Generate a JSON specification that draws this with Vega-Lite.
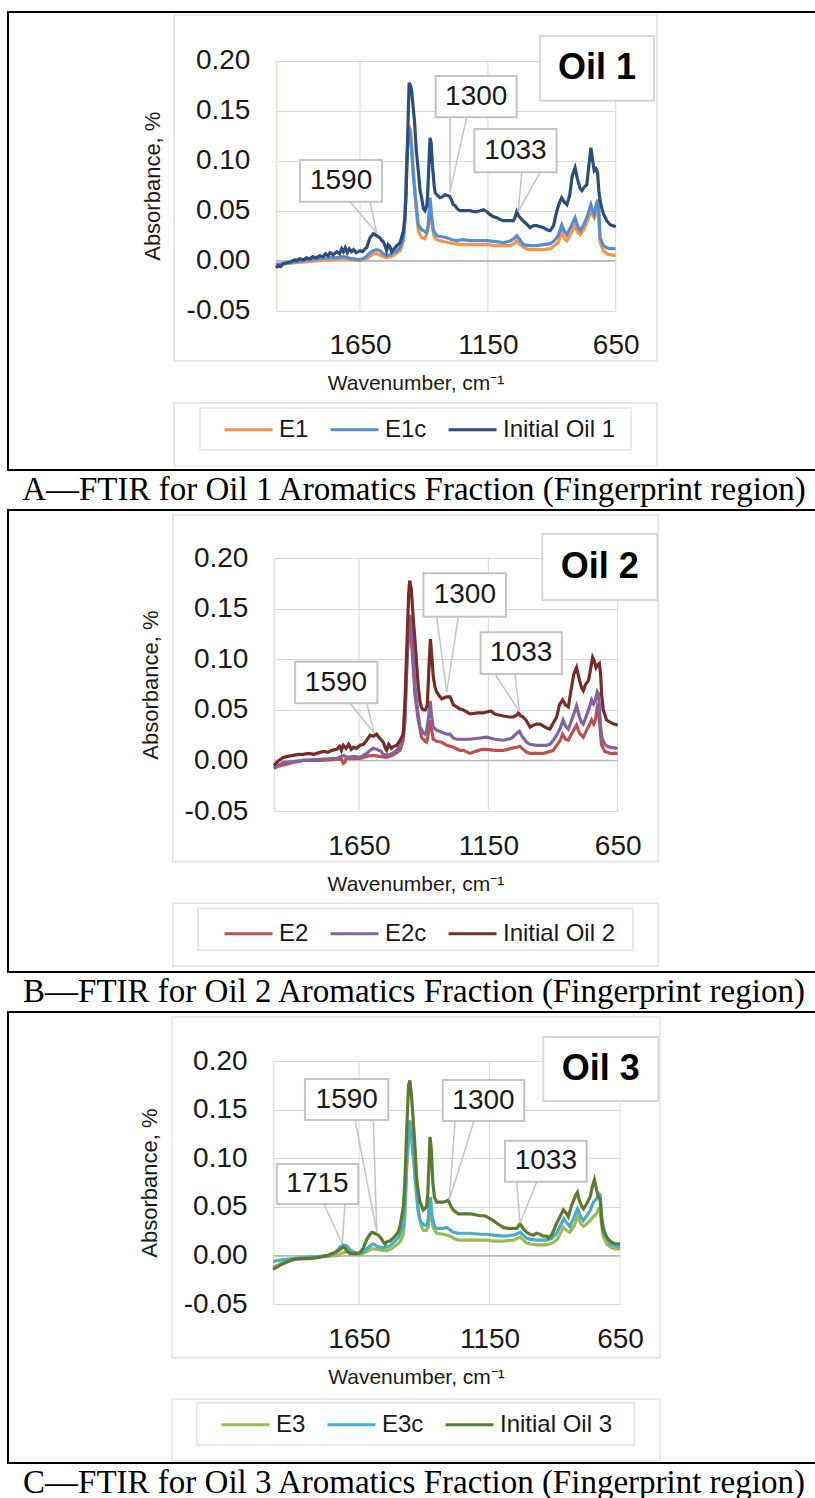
{
  "$schema": "https://vega.github.io/schema/vega-lite/v6.json",
  "padding": {"left": 7, "top": 11, "right": 0, "bottom": 0},
  "bounds": "flush",
  "spacing": 0,
  "resolve": {"scale": {"color": "independent"}},
  "config": {
    "view": {"stroke": "#000000", "strokeWidth": 2},
    "font": "Liberation Sans",
    "text": {"font": "Liberation Sans"},
    "axis": {
      "gridColor": "#d9d9d9", "gridWidth": 1,
      "ticks": false, "labelFontSize": 28, "labelColor": "#1a1a1a",
      "labelFlush": false, "labelOverlap": false, "labelBound": false,
      "titleFontWeight": "normal", "titleColor": "#1a1a1a",
      "titleFont": "Liberation Sans", "labelFont": "Liberation Sans"
    },
    "legend": {
      "title": null, "orient": "none", "direction": "horizontal",
      "symbolType": "stroke", "symbolSize": 2304, "symbolStrokeWidth": 3,
      "labelFontSize": 24, "labelFont": "Liberation Sans", "labelColor": "#1a1a1a",
      "labelOffset": 5, "columnPadding": 15, "padding": 0, "labelLimit": 0
    }
  },
  "datasets": {
    "lineA": [
      {"s":"E1","w":1979,"a":-0.004},{"s":"E1","w":1900,"a":-0.002},{"s":"E1","w":1807,"a":0.0},{"s":"E1","w":1767,"a":0.001},{"s":"E1","w":1715,"a":0.002},{"s":"E1","w":1683,"a":0.001},{"s":"E1","w":1650,"a":0.0},{"s":"E1","w":1624,"a":0.002},{"s":"E1","w":1598,"a":0.007},{"s":"E1","w":1585,"a":0.007},{"s":"E1","w":1559,"a":0.004},{"s":"E1","w":1546,"a":0.003},{"s":"E1","w":1520,"a":0.005},{"s":"E1","w":1493,"a":0.010},{"s":"E1","w":1480,"a":0.02},{"s":"E1","w":1474,"a":0.05},{"s":"E1","w":1467,"a":0.1},{"s":"E1","w":1459,"a":0.135},{"s":"E1","w":1452,"a":0.13},{"s":"E1","w":1441,"a":0.09},{"s":"E1","w":1430,"a":0.05},{"s":"E1","w":1422,"a":0.03},{"s":"E1","w":1409,"a":0.023},{"s":"E1","w":1396,"a":0.022},{"s":"E1","w":1386,"a":0.03},{"s":"E1","w":1376,"a":0.053},{"s":"E1","w":1368,"a":0.035},{"s":"E1","w":1360,"a":0.024},{"s":"E1","w":1350,"a":0.021},{"s":"E1","w":1320,"a":0.019},{"s":"E1","w":1285,"a":0.017},{"s":"E1","w":1250,"a":0.016},{"s":"E1","w":1219,"a":0.016},{"s":"E1","w":1180,"a":0.016},{"s":"E1","w":1154,"a":0.016},{"s":"E1","w":1120,"a":0.015},{"s":"E1","w":1089,"a":0.015},{"s":"E1","w":1060,"a":0.015},{"s":"E1","w":1045,"a":0.018},{"s":"E1","w":1037,"a":0.020},{"s":"E1","w":1025,"a":0.016},{"s":"E1","w":1000,"a":0.012},{"s":"E1","w":985,"a":0.011},{"s":"E1","w":959,"a":0.011},{"s":"E1","w":932,"a":0.011},{"s":"E1","w":906,"a":0.012},{"s":"E1","w":890,"a":0.015},{"s":"E1","w":875,"a":0.018},{"s":"E1","w":861,"a":0.029},{"s":"E1","w":850,"a":0.022},{"s":"E1","w":841,"a":0.020},{"s":"E1","w":825,"a":0.027},{"s":"E1","w":809,"a":0.035},{"s":"E1","w":798,"a":0.028},{"s":"E1","w":789,"a":0.026},{"s":"E1","w":775,"a":0.031},{"s":"E1","w":763,"a":0.038},{"s":"E1","w":747,"a":0.050},{"s":"E1","w":740,"a":0.046},{"s":"E1","w":734,"a":0.043},{"s":"E1","w":727,"a":0.048},{"s":"E1","w":721,"a":0.052},{"s":"E1","w":716,"a":0.040},{"s":"E1","w":711,"a":0.018},{"s":"E1","w":698,"a":0.010},{"s":"E1","w":685,"a":0.007},{"s":"E1","w":672,"a":0.006},{"s":"E1","w":650,"a":0.005},
      {"s":"E1c","w":1979,"a":-0.004},{"s":"E1c","w":1950,"a":-0.003},{"s":"E1c","w":1898,"a":-0.001},{"s":"E1c","w":1846,"a":0.001},{"s":"E1c","w":1807,"a":0.002},{"s":"E1c","w":1767,"a":0.003},{"s":"E1c","w":1741,"a":0.003},{"s":"E1c","w":1715,"a":0.004},{"s":"E1c","w":1683,"a":0.002},{"s":"E1c","w":1650,"a":0.001},{"s":"E1c","w":1630,"a":0.003},{"s":"E1c","w":1611,"a":0.008},{"s":"E1c","w":1598,"a":0.010},{"s":"E1c","w":1585,"a":0.011},{"s":"E1c","w":1572,"a":0.010},{"s":"E1c","w":1559,"a":0.007},{"s":"E1c","w":1546,"a":0.005},{"s":"E1c","w":1533,"a":0.006},{"s":"E1c","w":1520,"a":0.008},{"s":"E1c","w":1506,"a":0.010},{"s":"E1c","w":1493,"a":0.013},{"s":"E1c","w":1480,"a":0.023},{"s":"E1c","w":1474,"a":0.04},{"s":"E1c","w":1467,"a":0.1},{"s":"E1c","w":1460,"a":0.133},{"s":"E1c","w":1455,"a":0.13},{"s":"E1c","w":1448,"a":0.11},{"s":"E1c","w":1441,"a":0.083},{"s":"E1c","w":1430,"a":0.055},{"s":"E1c","w":1422,"a":0.036},{"s":"E1c","w":1409,"a":0.031},{"s":"E1c","w":1402,"a":0.030},{"s":"E1c","w":1389,"a":0.028},{"s":"E1c","w":1383,"a":0.035},{"s":"E1c","w":1376,"a":0.063},{"s":"E1c","w":1370,"a":0.045},{"s":"E1c","w":1363,"a":0.030},{"s":"E1c","w":1350,"a":0.025},{"s":"E1c","w":1330,"a":0.024},{"s":"E1c","w":1311,"a":0.023},{"s":"E1c","w":1290,"a":0.021},{"s":"E1c","w":1272,"a":0.020},{"s":"E1c","w":1250,"a":0.021},{"s":"E1c","w":1219,"a":0.020},{"s":"E1c","w":1190,"a":0.020},{"s":"E1c","w":1154,"a":0.020},{"s":"E1c","w":1120,"a":0.019},{"s":"E1c","w":1089,"a":0.018},{"s":"E1c","w":1060,"a":0.020},{"s":"E1c","w":1045,"a":0.023},{"s":"E1c","w":1037,"a":0.025},{"s":"E1c","w":1025,"a":0.021},{"s":"E1c","w":1011,"a":0.016},{"s":"E1c","w":985,"a":0.015},{"s":"E1c","w":959,"a":0.015},{"s":"E1c","w":932,"a":0.016},{"s":"E1c","w":906,"a":0.017},{"s":"E1c","w":890,"a":0.020},{"s":"E1c","w":875,"a":0.025},{"s":"E1c","w":861,"a":0.036},{"s":"E1c","w":852,"a":0.030},{"s":"E1c","w":841,"a":0.026},{"s":"E1c","w":825,"a":0.034},{"s":"E1c","w":809,"a":0.043},{"s":"E1c","w":798,"a":0.034},{"s":"E1c","w":789,"a":0.030},{"s":"E1c","w":775,"a":0.036},{"s":"E1c","w":763,"a":0.043},{"s":"E1c","w":747,"a":0.056},{"s":"E1c","w":740,"a":0.050},{"s":"E1c","w":734,"a":0.046},{"s":"E1c","w":727,"a":0.055},{"s":"E1c","w":721,"a":0.061},{"s":"E1c","w":716,"a":0.050},{"s":"E1c","w":711,"a":0.023},{"s":"E1c","w":698,"a":0.015},{"s":"E1c","w":685,"a":0.013},{"s":"E1c","w":672,"a":0.012},{"s":"E1c","w":650,"a":0.012},
      {"s":"Initial Oil 1","w":1979,"a":-0.007},{"s":"Initial Oil 1","w":1970,"a":-0.005},{"s":"Initial Oil 1","w":1960,"a":-0.006},{"s":"Initial Oil 1","w":1950,"a":-0.003},{"s":"Initial Oil 1","w":1935,"a":-0.002},{"s":"Initial Oil 1","w":1920,"a":-0.001},{"s":"Initial Oil 1","w":1905,"a":0.001},{"s":"Initial Oil 1","w":1898,"a":0.0},{"s":"Initial Oil 1","w":1885,"a":0.002},{"s":"Initial Oil 1","w":1870,"a":0.001},{"s":"Initial Oil 1","w":1860,"a":0.003},{"s":"Initial Oil 1","w":1846,"a":0.002},{"s":"Initial Oil 1","w":1835,"a":0.004},{"s":"Initial Oil 1","w":1820,"a":0.003},{"s":"Initial Oil 1","w":1807,"a":0.005},{"s":"Initial Oil 1","w":1795,"a":0.004},{"s":"Initial Oil 1","w":1785,"a":0.007},{"s":"Initial Oil 1","w":1775,"a":0.005},{"s":"Initial Oil 1","w":1767,"a":0.008},{"s":"Initial Oil 1","w":1755,"a":0.006},{"s":"Initial Oil 1","w":1741,"a":0.009},{"s":"Initial Oil 1","w":1730,"a":0.007},{"s":"Initial Oil 1","w":1722,"a":0.012},{"s":"Initial Oil 1","w":1715,"a":0.009},{"s":"Initial Oil 1","w":1708,"a":0.013},{"s":"Initial Oil 1","w":1700,"a":0.008},{"s":"Initial Oil 1","w":1692,"a":0.012},{"s":"Initial Oil 1","w":1683,"a":0.009},{"s":"Initial Oil 1","w":1675,"a":0.011},{"s":"Initial Oil 1","w":1665,"a":0.008},{"s":"Initial Oil 1","w":1650,"a":0.010},{"s":"Initial Oil 1","w":1640,"a":0.009},{"s":"Initial Oil 1","w":1630,"a":0.012},{"s":"Initial Oil 1","w":1624,"a":0.013},{"s":"Initial Oil 1","w":1611,"a":0.023},{"s":"Initial Oil 1","w":1598,"a":0.027},{"s":"Initial Oil 1","w":1590,"a":0.026},{"s":"Initial Oil 1","w":1580,"a":0.024},{"s":"Initial Oil 1","w":1572,"a":0.023},{"s":"Initial Oil 1","w":1565,"a":0.020},{"s":"Initial Oil 1","w":1559,"a":0.019},{"s":"Initial Oil 1","w":1552,"a":0.015},{"s":"Initial Oil 1","w":1546,"a":0.010},{"s":"Initial Oil 1","w":1540,"a":0.016},{"s":"Initial Oil 1","w":1533,"a":0.014},{"s":"Initial Oil 1","w":1526,"a":0.009},{"s":"Initial Oil 1","w":1520,"a":0.011},{"s":"Initial Oil 1","w":1506,"a":0.015},{"s":"Initial Oil 1","w":1493,"a":0.018},{"s":"Initial Oil 1","w":1480,"a":0.030},{"s":"Initial Oil 1","w":1474,"a":0.045},{"s":"Initial Oil 1","w":1470,"a":0.065},{"s":"Initial Oil 1","w":1464,"a":0.12},{"s":"Initial Oil 1","w":1458,"a":0.178},{"s":"Initial Oil 1","w":1452,"a":0.175},{"s":"Initial Oil 1","w":1448,"a":0.170},{"s":"Initial Oil 1","w":1441,"a":0.15},{"s":"Initial Oil 1","w":1437,"a":0.14},{"s":"Initial Oil 1","w":1430,"a":0.11},{"s":"Initial Oil 1","w":1422,"a":0.09},{"s":"Initial Oil 1","w":1415,"a":0.07},{"s":"Initial Oil 1","w":1409,"a":0.063},{"s":"Initial Oil 1","w":1402,"a":0.052},{"s":"Initial Oil 1","w":1396,"a":0.05},{"s":"Initial Oil 1","w":1389,"a":0.055},{"s":"Initial Oil 1","w":1386,"a":0.063},{"s":"Initial Oil 1","w":1380,"a":0.1},{"s":"Initial Oil 1","w":1376,"a":0.123},{"s":"Initial Oil 1","w":1372,"a":0.118},{"s":"Initial Oil 1","w":1366,"a":0.093},{"s":"Initial Oil 1","w":1360,"a":0.075},{"s":"Initial Oil 1","w":1356,"a":0.068},{"s":"Initial Oil 1","w":1350,"a":0.066},{"s":"Initial Oil 1","w":1337,"a":0.063},{"s":"Initial Oil 1","w":1327,"a":0.064},{"s":"Initial Oil 1","w":1317,"a":0.066},{"s":"Initial Oil 1","w":1305,"a":0.065},{"s":"Initial Oil 1","w":1298,"a":0.064},{"s":"Initial Oil 1","w":1285,"a":0.056},{"s":"Initial Oil 1","w":1278,"a":0.055},{"s":"Initial Oil 1","w":1270,"a":0.052},{"s":"Initial Oil 1","w":1259,"a":0.050},{"s":"Initial Oil 1","w":1240,"a":0.050},{"s":"Initial Oil 1","w":1219,"a":0.050},{"s":"Initial Oil 1","w":1205,"a":0.049},{"s":"Initial Oil 1","w":1193,"a":0.049},{"s":"Initial Oil 1","w":1180,"a":0.050},{"s":"Initial Oil 1","w":1167,"a":0.051},{"s":"Initial Oil 1","w":1154,"a":0.049},{"s":"Initial Oil 1","w":1141,"a":0.046},{"s":"Initial Oil 1","w":1128,"a":0.044},{"s":"Initial Oil 1","w":1115,"a":0.043},{"s":"Initial Oil 1","w":1100,"a":0.041},{"s":"Initial Oil 1","w":1089,"a":0.040},{"s":"Initial Oil 1","w":1070,"a":0.040},{"s":"Initial Oil 1","w":1050,"a":0.040},{"s":"Initial Oil 1","w":1044,"a":0.043},{"s":"Initial Oil 1","w":1037,"a":0.049},{"s":"Initial Oil 1","w":1030,"a":0.045},{"s":"Initial Oil 1","w":1017,"a":0.041},{"s":"Initial Oil 1","w":1000,"a":0.037},{"s":"Initial Oil 1","w":985,"a":0.033},{"s":"Initial Oil 1","w":972,"a":0.035},{"s":"Initial Oil 1","w":959,"a":0.035},{"s":"Initial Oil 1","w":945,"a":0.034},{"s":"Initial Oil 1","w":932,"a":0.033},{"s":"Initial Oil 1","w":919,"a":0.031},{"s":"Initial Oil 1","w":906,"a":0.030},{"s":"Initial Oil 1","w":893,"a":0.035},{"s":"Initial Oil 1","w":880,"a":0.050},{"s":"Initial Oil 1","w":870,"a":0.058},{"s":"Initial Oil 1","w":861,"a":0.063},{"s":"Initial Oil 1","w":852,"a":0.059},{"s":"Initial Oil 1","w":841,"a":0.056},{"s":"Initial Oil 1","w":830,"a":0.065},{"s":"Initial Oil 1","w":820,"a":0.085},{"s":"Initial Oil 1","w":809,"a":0.093},{"s":"Initial Oil 1","w":800,"a":0.082},{"s":"Initial Oil 1","w":789,"a":0.072},{"s":"Initial Oil 1","w":782,"a":0.070},{"s":"Initial Oil 1","w":772,"a":0.074},{"s":"Initial Oil 1","w":763,"a":0.076},{"s":"Initial Oil 1","w":755,"a":0.095},{"s":"Initial Oil 1","w":747,"a":0.113},{"s":"Initial Oil 1","w":740,"a":0.100},{"s":"Initial Oil 1","w":734,"a":0.090},{"s":"Initial Oil 1","w":727,"a":0.092},{"s":"Initial Oil 1","w":721,"a":0.088},{"s":"Initial Oil 1","w":716,"a":0.07},{"s":"Initial Oil 1","w":711,"a":0.06},{"s":"Initial Oil 1","w":704,"a":0.052},{"s":"Initial Oil 1","w":698,"a":0.047},{"s":"Initial Oil 1","w":685,"a":0.040},{"s":"Initial Oil 1","w":672,"a":0.036},{"s":"Initial Oil 1","w":660,"a":0.035},{"s":"Initial Oil 1","w":650,"a":0.034}
    ],
    "lineB": [
      {"s":"E2","w":1979,"a":-0.007},{"s":"E2","w":1904,"a":-0.002},{"s":"E2","w":1865,"a":0.0},{"s":"E2","w":1801,"a":0.0},{"s":"E2","w":1736,"a":0.001},{"s":"E2","w":1718,"a":0.001},{"s":"E2","w":1711,"a":-0.003},{"s":"E2","w":1705,"a":-0.002},{"s":"E2","w":1700,"a":0.002},{"s":"E2","w":1672,"a":0.002},{"s":"E2","w":1646,"a":0.002},{"s":"E2","w":1620,"a":0.004},{"s":"E2","w":1595,"a":0.005},{"s":"E2","w":1570,"a":0.004},{"s":"E2","w":1543,"a":0.003},{"s":"E2","w":1520,"a":0.005},{"s":"E2","w":1491,"a":0.010},{"s":"E2","w":1479,"a":0.02},{"s":"E2","w":1472,"a":0.04},{"s":"E2","w":1466,"a":0.09},{"s":"E2","w":1458,"a":0.13},{"s":"E2","w":1455,"a":0.142},{"s":"E2","w":1448,"a":0.12},{"s":"E2","w":1440,"a":0.09},{"s":"E2","w":1434,"a":0.066},{"s":"E2","w":1421,"a":0.04},{"s":"E2","w":1408,"a":0.023},{"s":"E2","w":1395,"a":0.019},{"s":"E2","w":1388,"a":0.018},{"s":"E2","w":1380,"a":0.03},{"s":"E2","w":1375,"a":0.040},{"s":"E2","w":1369,"a":0.03},{"s":"E2","w":1363,"a":0.021},{"s":"E2","w":1350,"a":0.019},{"s":"E2","w":1330,"a":0.018},{"s":"E2","w":1311,"a":0.015},{"s":"E2","w":1285,"a":0.013},{"s":"E2","w":1260,"a":0.010},{"s":"E2","w":1247,"a":0.010},{"s":"E2","w":1221,"a":0.007},{"s":"E2","w":1200,"a":0.009},{"s":"E2","w":1175,"a":0.011},{"s":"E2","w":1156,"a":0.011},{"s":"E2","w":1125,"a":0.010},{"s":"E2","w":1092,"a":0.010},{"s":"E2","w":1060,"a":0.012},{"s":"E2","w":1040,"a":0.013},{"s":"E2","w":1028,"a":0.014},{"s":"E2","w":1015,"a":0.011},{"s":"E2","w":1002,"a":0.008},{"s":"E2","w":989,"a":0.007},{"s":"E2","w":963,"a":0.007},{"s":"E2","w":937,"a":0.007},{"s":"E2","w":912,"a":0.009},{"s":"E2","w":899,"a":0.010},{"s":"E2","w":886,"a":0.015},{"s":"E2","w":872,"a":0.020},{"s":"E2","w":863,"a":0.026},{"s":"E2","w":852,"a":0.021},{"s":"E2","w":841,"a":0.020},{"s":"E2","w":825,"a":0.028},{"s":"E2","w":809,"a":0.035},{"s":"E2","w":798,"a":0.027},{"s":"E2","w":783,"a":0.023},{"s":"E2","w":770,"a":0.030},{"s":"E2","w":760,"a":0.035},{"s":"E2","w":751,"a":0.040},{"s":"E2","w":743,"a":0.036},{"s":"E2","w":736,"a":0.040},{"s":"E2","w":729,"a":0.053},{"s":"E2","w":724,"a":0.050},{"s":"E2","w":716,"a":0.025},{"s":"E2","w":712,"a":0.015},{"s":"E2","w":700,"a":0.009},{"s":"E2","w":690,"a":0.008},{"s":"E2","w":680,"a":0.007},{"s":"E2","w":650,"a":0.007},
      {"s":"E2c","w":1979,"a":-0.008},{"s":"E2c","w":1943,"a":-0.002},{"s":"E2c","w":1904,"a":-0.001},{"s":"E2c","w":1865,"a":0.0},{"s":"E2c","w":1801,"a":0.001},{"s":"E2c","w":1736,"a":0.002},{"s":"E2c","w":1711,"a":0.005},{"s":"E2c","w":1690,"a":0.003},{"s":"E2c","w":1672,"a":0.004},{"s":"E2c","w":1646,"a":0.003},{"s":"E2c","w":1620,"a":0.007},{"s":"E2c","w":1607,"a":0.010},{"s":"E2c","w":1595,"a":0.012},{"s":"E2c","w":1582,"a":0.011},{"s":"E2c","w":1565,"a":0.009},{"s":"E2c","w":1556,"a":0.006},{"s":"E2c","w":1543,"a":0.005},{"s":"E2c","w":1520,"a":0.007},{"s":"E2c","w":1504,"a":0.01},{"s":"E2c","w":1491,"a":0.014},{"s":"E2c","w":1479,"a":0.026},{"s":"E2c","w":1472,"a":0.05},{"s":"E2c","w":1466,"a":0.089},{"s":"E2c","w":1458,"a":0.135},{"s":"E2c","w":1453,"a":0.144},{"s":"E2c","w":1447,"a":0.13},{"s":"E2c","w":1440,"a":0.1},{"s":"E2c","w":1434,"a":0.073},{"s":"E2c","w":1421,"a":0.045},{"s":"E2c","w":1414,"a":0.033},{"s":"E2c","w":1401,"a":0.027},{"s":"E2c","w":1395,"a":0.026},{"s":"E2c","w":1388,"a":0.03},{"s":"E2c","w":1380,"a":0.045},{"s":"E2c","w":1375,"a":0.059},{"s":"E2c","w":1370,"a":0.045},{"s":"E2c","w":1363,"a":0.033},{"s":"E2c","w":1350,"a":0.030},{"s":"E2c","w":1330,"a":0.028},{"s":"E2c","w":1311,"a":0.026},{"s":"E2c","w":1298,"a":0.026},{"s":"E2c","w":1285,"a":0.022},{"s":"E2c","w":1272,"a":0.021},{"s":"E2c","w":1247,"a":0.021},{"s":"E2c","w":1221,"a":0.021},{"s":"E2c","w":1190,"a":0.022},{"s":"E2c","w":1156,"a":0.023},{"s":"E2c","w":1125,"a":0.021},{"s":"E2c","w":1092,"a":0.020},{"s":"E2c","w":1060,"a":0.022},{"s":"E2c","w":1040,"a":0.027},{"s":"E2c","w":1030,"a":0.029},{"s":"E2c","w":1020,"a":0.024},{"s":"E2c","w":1002,"a":0.018},{"s":"E2c","w":989,"a":0.016},{"s":"E2c","w":963,"a":0.015},{"s":"E2c","w":937,"a":0.015},{"s":"E2c","w":925,"a":0.015},{"s":"E2c","w":912,"a":0.016},{"s":"E2c","w":899,"a":0.020},{"s":"E2c","w":886,"a":0.025},{"s":"E2c","w":872,"a":0.032},{"s":"E2c","w":861,"a":0.040},{"s":"E2c","w":852,"a":0.034},{"s":"E2c","w":841,"a":0.031},{"s":"E2c","w":825,"a":0.042},{"s":"E2c","w":809,"a":0.054},{"s":"E2c","w":798,"a":0.043},{"s":"E2c","w":790,"a":0.038},{"s":"E2c","w":783,"a":0.036},{"s":"E2c","w":770,"a":0.045},{"s":"E2c","w":760,"a":0.052},{"s":"E2c","w":751,"a":0.060},{"s":"E2c","w":743,"a":0.056},{"s":"E2c","w":736,"a":0.060},{"s":"E2c","w":729,"a":0.068},{"s":"E2c","w":724,"a":0.066},{"s":"E2c","w":716,"a":0.033},{"s":"E2c","w":710,"a":0.022},{"s":"E2c","w":700,"a":0.016},{"s":"E2c","w":690,"a":0.014},{"s":"E2c","w":680,"a":0.013},{"s":"E2c","w":650,"a":0.012},
      {"s":"Initial Oil 2","w":1979,"a":-0.005},{"s":"Initial Oil 2","w":1960,"a":0.0},{"s":"Initial Oil 2","w":1943,"a":0.003},{"s":"Initial Oil 2","w":1925,"a":0.004},{"s":"Initial Oil 2","w":1904,"a":0.005},{"s":"Initial Oil 2","w":1885,"a":0.006},{"s":"Initial Oil 2","w":1865,"a":0.006},{"s":"Initial Oil 2","w":1845,"a":0.007},{"s":"Initial Oil 2","w":1825,"a":0.006},{"s":"Initial Oil 2","w":1801,"a":0.008},{"s":"Initial Oil 2","w":1785,"a":0.009},{"s":"Initial Oil 2","w":1770,"a":0.008},{"s":"Initial Oil 2","w":1755,"a":0.010},{"s":"Initial Oil 2","w":1736,"a":0.011},{"s":"Initial Oil 2","w":1725,"a":0.014},{"s":"Initial Oil 2","w":1718,"a":0.010},{"s":"Initial Oil 2","w":1711,"a":0.015},{"s":"Initial Oil 2","w":1700,"a":0.012},{"s":"Initial Oil 2","w":1690,"a":0.016},{"s":"Initial Oil 2","w":1680,"a":0.011},{"s":"Initial Oil 2","w":1672,"a":0.013},{"s":"Initial Oil 2","w":1660,"a":0.012},{"s":"Initial Oil 2","w":1646,"a":0.015},{"s":"Initial Oil 2","w":1633,"a":0.016},{"s":"Initial Oil 2","w":1620,"a":0.020},{"s":"Initial Oil 2","w":1607,"a":0.025},{"s":"Initial Oil 2","w":1595,"a":0.024},{"s":"Initial Oil 2","w":1582,"a":0.026},{"s":"Initial Oil 2","w":1570,"a":0.022},{"s":"Initial Oil 2","w":1556,"a":0.018},{"s":"Initial Oil 2","w":1548,"a":0.012},{"s":"Initial Oil 2","w":1543,"a":0.010},{"s":"Initial Oil 2","w":1535,"a":0.016},{"s":"Initial Oil 2","w":1525,"a":0.012},{"s":"Initial Oil 2","w":1515,"a":0.014},{"s":"Initial Oil 2","w":1504,"a":0.015},{"s":"Initial Oil 2","w":1491,"a":0.020},{"s":"Initial Oil 2","w":1479,"a":0.026},{"s":"Initial Oil 2","w":1472,"a":0.06},{"s":"Initial Oil 2","w":1466,"a":0.106},{"s":"Initial Oil 2","w":1458,"a":0.165},{"s":"Initial Oil 2","w":1454,"a":0.178},{"s":"Initial Oil 2","w":1448,"a":0.17},{"s":"Initial Oil 2","w":1440,"a":0.139},{"s":"Initial Oil 2","w":1434,"a":0.12},{"s":"Initial Oil 2","w":1421,"a":0.073},{"s":"Initial Oil 2","w":1414,"a":0.058},{"s":"Initial Oil 2","w":1408,"a":0.052},{"s":"Initial Oil 2","w":1401,"a":0.05},{"s":"Initial Oil 2","w":1393,"a":0.050},{"s":"Initial Oil 2","w":1386,"a":0.055},{"s":"Initial Oil 2","w":1380,"a":0.09},{"s":"Initial Oil 2","w":1374,"a":0.12},{"s":"Initial Oil 2","w":1369,"a":0.105},{"s":"Initial Oil 2","w":1363,"a":0.083},{"s":"Initial Oil 2","w":1356,"a":0.072},{"s":"Initial Oil 2","w":1350,"a":0.068},{"s":"Initial Oil 2","w":1340,"a":0.064},{"s":"Initial Oil 2","w":1330,"a":0.061},{"s":"Initial Oil 2","w":1311,"a":0.063},{"s":"Initial Oil 2","w":1298,"a":0.063},{"s":"Initial Oil 2","w":1285,"a":0.055},{"s":"Initial Oil 2","w":1272,"a":0.053},{"s":"Initial Oil 2","w":1260,"a":0.051},{"s":"Initial Oil 2","w":1247,"a":0.050},{"s":"Initial Oil 2","w":1221,"a":0.046},{"s":"Initial Oil 2","w":1190,"a":0.047},{"s":"Initial Oil 2","w":1170,"a":0.047},{"s":"Initial Oil 2","w":1156,"a":0.048},{"s":"Initial Oil 2","w":1140,"a":0.049},{"s":"Initial Oil 2","w":1125,"a":0.046},{"s":"Initial Oil 2","w":1110,"a":0.045},{"s":"Initial Oil 2","w":1092,"a":0.044},{"s":"Initial Oil 2","w":1070,"a":0.043},{"s":"Initial Oil 2","w":1053,"a":0.043},{"s":"Initial Oil 2","w":1040,"a":0.045},{"s":"Initial Oil 2","w":1034,"a":0.047},{"s":"Initial Oil 2","w":1025,"a":0.044},{"s":"Initial Oil 2","w":1015,"a":0.043},{"s":"Initial Oil 2","w":1002,"a":0.039},{"s":"Initial Oil 2","w":989,"a":0.033},{"s":"Initial Oil 2","w":975,"a":0.035},{"s":"Initial Oil 2","w":963,"a":0.036},{"s":"Initial Oil 2","w":950,"a":0.036},{"s":"Initial Oil 2","w":937,"a":0.034},{"s":"Initial Oil 2","w":925,"a":0.032},{"s":"Initial Oil 2","w":912,"a":0.031},{"s":"Initial Oil 2","w":899,"a":0.037},{"s":"Initial Oil 2","w":886,"a":0.043},{"s":"Initial Oil 2","w":875,"a":0.055},{"s":"Initial Oil 2","w":863,"a":0.060},{"s":"Initial Oil 2","w":852,"a":0.055},{"s":"Initial Oil 2","w":841,"a":0.053},{"s":"Initial Oil 2","w":830,"a":0.070},{"s":"Initial Oil 2","w":820,"a":0.085},{"s":"Initial Oil 2","w":809,"a":0.092},{"s":"Initial Oil 2","w":800,"a":0.082},{"s":"Initial Oil 2","w":790,"a":0.072},{"s":"Initial Oil 2","w":783,"a":0.069},{"s":"Initial Oil 2","w":775,"a":0.075},{"s":"Initial Oil 2","w":763,"a":0.079},{"s":"Initial Oil 2","w":755,"a":0.090},{"s":"Initial Oil 2","w":747,"a":0.102},{"s":"Initial Oil 2","w":740,"a":0.098},{"s":"Initial Oil 2","w":734,"a":0.092},{"s":"Initial Oil 2","w":729,"a":0.094},{"s":"Initial Oil 2","w":721,"a":0.096},{"s":"Initial Oil 2","w":716,"a":0.085},{"s":"Initial Oil 2","w":712,"a":0.065},{"s":"Initial Oil 2","w":706,"a":0.05},{"s":"Initial Oil 2","w":693,"a":0.040},{"s":"Initial Oil 2","w":680,"a":0.038},{"s":"Initial Oil 2","w":665,"a":0.036},{"s":"Initial Oil 2","w":650,"a":0.035}
    ],
    "lineC": [
      {"s":"E3","w":1979,"a":-0.012},{"s":"E3","w":1940,"a":-0.007},{"s":"E3","w":1902,"a":-0.004},{"s":"E3","w":1863,"a":-0.003},{"s":"E3","w":1800,"a":-0.001},{"s":"E3","w":1736,"a":0.0},{"s":"E3","w":1710,"a":0.003},{"s":"E3","w":1697,"a":0.004},{"s":"E3","w":1672,"a":0.002},{"s":"E3","w":1646,"a":0.001},{"s":"E3","w":1621,"a":0.004},{"s":"E3","w":1601,"a":0.007},{"s":"E3","w":1590,"a":0.007},{"s":"E3","w":1570,"a":0.006},{"s":"E3","w":1544,"a":0.005},{"s":"E3","w":1520,"a":0.008},{"s":"E3","w":1493,"a":0.014},{"s":"E3","w":1480,"a":0.022},{"s":"E3","w":1474,"a":0.04},{"s":"E3","w":1467,"a":0.09},{"s":"E3","w":1458,"a":0.128},{"s":"E3","w":1454,"a":0.132},{"s":"E3","w":1447,"a":0.115},{"s":"E3","w":1435,"a":0.08},{"s":"E3","w":1423,"a":0.045},{"s":"E3","w":1410,"a":0.03},{"s":"E3","w":1404,"a":0.026},{"s":"E3","w":1391,"a":0.026},{"s":"E3","w":1384,"a":0.03},{"s":"E3","w":1378,"a":0.048},{"s":"E3","w":1372,"a":0.04},{"s":"E3","w":1365,"a":0.028},{"s":"E3","w":1352,"a":0.023},{"s":"E3","w":1327,"a":0.022},{"s":"E3","w":1300,"a":0.020},{"s":"E3","w":1289,"a":0.018},{"s":"E3","w":1269,"a":0.016},{"s":"E3","w":1225,"a":0.016},{"s":"E3","w":1186,"a":0.016},{"s":"E3","w":1161,"a":0.016},{"s":"E3","w":1135,"a":0.015},{"s":"E3","w":1097,"a":0.015},{"s":"E3","w":1059,"a":0.016},{"s":"E3","w":1040,"a":0.018},{"s":"E3","w":1033,"a":0.019},{"s":"E3","w":1020,"a":0.016},{"s":"E3","w":1008,"a":0.013},{"s":"E3","w":995,"a":0.012},{"s":"E3","w":970,"a":0.011},{"s":"E3","w":931,"a":0.011},{"s":"E3","w":910,"a":0.013},{"s":"E3","w":893,"a":0.016},{"s":"E3","w":880,"a":0.022},{"s":"E3","w":867,"a":0.029},{"s":"E3","w":855,"a":0.026},{"s":"E3","w":842,"a":0.024},{"s":"E3","w":825,"a":0.031},{"s":"E3","w":813,"a":0.040},{"s":"E3","w":800,"a":0.033},{"s":"E3","w":790,"a":0.030},{"s":"E3","w":780,"a":0.032},{"s":"E3","w":765,"a":0.036},{"s":"E3","w":752,"a":0.040},{"s":"E3","w":740,"a":0.043},{"s":"E3","w":733,"a":0.048},{"s":"E3","w":726,"a":0.047},{"s":"E3","w":720,"a":0.030},{"s":"E3","w":714,"a":0.020},{"s":"E3","w":701,"a":0.012},{"s":"E3","w":688,"a":0.009},{"s":"E3","w":670,"a":0.007},{"s":"E3","w":650,"a":0.007},
      {"s":"E3c","w":1979,"a":-0.006},{"s":"E3c","w":1940,"a":-0.004},{"s":"E3c","w":1902,"a":-0.003},{"s":"E3c","w":1863,"a":-0.002},{"s":"E3c","w":1810,"a":-0.001},{"s":"E3c","w":1761,"a":0.0},{"s":"E3c","w":1740,"a":0.003},{"s":"E3c","w":1723,"a":0.009},{"s":"E3c","w":1710,"a":0.011},{"s":"E3c","w":1697,"a":0.010},{"s":"E3c","w":1684,"a":0.006},{"s":"E3c","w":1672,"a":0.004},{"s":"E3c","w":1646,"a":0.002},{"s":"E3c","w":1621,"a":0.007},{"s":"E3c","w":1601,"a":0.011},{"s":"E3c","w":1595,"a":0.012},{"s":"E3c","w":1576,"a":0.009},{"s":"E3c","w":1557,"a":0.008},{"s":"E3c","w":1531,"a":0.010},{"s":"E3c","w":1500,"a":0.018},{"s":"E3c","w":1480,"a":0.03},{"s":"E3c","w":1474,"a":0.05},{"s":"E3c","w":1467,"a":0.098},{"s":"E3c","w":1458,"a":0.135},{"s":"E3c","w":1454,"a":0.139},{"s":"E3c","w":1447,"a":0.12},{"s":"E3c","w":1435,"a":0.084},{"s":"E3c","w":1425,"a":0.05},{"s":"E3c","w":1416,"a":0.036},{"s":"E3c","w":1404,"a":0.032},{"s":"E3c","w":1391,"a":0.031},{"s":"E3c","w":1386,"a":0.035},{"s":"E3c","w":1380,"a":0.055},{"s":"E3c","w":1376,"a":0.06},{"s":"E3c","w":1370,"a":0.04},{"s":"E3c","w":1360,"a":0.030},{"s":"E3c","w":1352,"a":0.028},{"s":"E3c","w":1327,"a":0.028},{"s":"E3c","w":1314,"a":0.029},{"s":"E3c","w":1289,"a":0.024},{"s":"E3c","w":1269,"a":0.023},{"s":"E3c","w":1225,"a":0.023},{"s":"E3c","w":1186,"a":0.022},{"s":"E3c","w":1161,"a":0.022},{"s":"E3c","w":1135,"a":0.021},{"s":"E3c","w":1097,"a":0.020},{"s":"E3c","w":1059,"a":0.021},{"s":"E3c","w":1040,"a":0.023},{"s":"E3c","w":1033,"a":0.024},{"s":"E3c","w":1020,"a":0.021},{"s":"E3c","w":1008,"a":0.018},{"s":"E3c","w":995,"a":0.017},{"s":"E3c","w":970,"a":0.016},{"s":"E3c","w":931,"a":0.016},{"s":"E3c","w":910,"a":0.018},{"s":"E3c","w":893,"a":0.023},{"s":"E3c","w":880,"a":0.030},{"s":"E3c","w":865,"a":0.038},{"s":"E3c","w":855,"a":0.034},{"s":"E3c","w":842,"a":0.030},{"s":"E3c","w":825,"a":0.040},{"s":"E3c","w":813,"a":0.048},{"s":"E3c","w":800,"a":0.040},{"s":"E3c","w":790,"a":0.036},{"s":"E3c","w":780,"a":0.040},{"s":"E3c","w":765,"a":0.046},{"s":"E3c","w":752,"a":0.055},{"s":"E3c","w":740,"a":0.058},{"s":"E3c","w":733,"a":0.064},{"s":"E3c","w":726,"a":0.062},{"s":"E3c","w":720,"a":0.040},{"s":"E3c","w":714,"a":0.030},{"s":"E3c","w":701,"a":0.018},{"s":"E3c","w":688,"a":0.012},{"s":"E3c","w":670,"a":0.010},{"s":"E3c","w":650,"a":0.009},
      {"s":"Initial Oil 3","w":1979,"a":-0.014},{"s":"Initial Oil 3","w":1960,"a":-0.011},{"s":"Initial Oil 3","w":1940,"a":-0.008},{"s":"Initial Oil 3","w":1920,"a":-0.006},{"s":"Initial Oil 3","w":1902,"a":-0.004},{"s":"Initial Oil 3","w":1880,"a":-0.003},{"s":"Initial Oil 3","w":1863,"a":-0.003},{"s":"Initial Oil 3","w":1838,"a":-0.003},{"s":"Initial Oil 3","w":1810,"a":-0.002},{"s":"Initial Oil 3","w":1790,"a":-0.001},{"s":"Initial Oil 3","w":1774,"a":0.0},{"s":"Initial Oil 3","w":1755,"a":0.002},{"s":"Initial Oil 3","w":1736,"a":0.004},{"s":"Initial Oil 3","w":1723,"a":0.006},{"s":"Initial Oil 3","w":1710,"a":0.009},{"s":"Initial Oil 3","w":1704,"a":0.008},{"s":"Initial Oil 3","w":1697,"a":0.005},{"s":"Initial Oil 3","w":1684,"a":0.002},{"s":"Initial Oil 3","w":1672,"a":0.002},{"s":"Initial Oil 3","w":1660,"a":0.002},{"s":"Initial Oil 3","w":1646,"a":0.003},{"s":"Initial Oil 3","w":1633,"a":0.008},{"s":"Initial Oil 3","w":1621,"a":0.016},{"s":"Initial Oil 3","w":1610,"a":0.021},{"s":"Initial Oil 3","w":1601,"a":0.024},{"s":"Initial Oil 3","w":1590,"a":0.023},{"s":"Initial Oil 3","w":1576,"a":0.021},{"s":"Initial Oil 3","w":1565,"a":0.018},{"s":"Initial Oil 3","w":1557,"a":0.014},{"s":"Initial Oil 3","w":1550,"a":0.012},{"s":"Initial Oil 3","w":1544,"a":0.014},{"s":"Initial Oil 3","w":1531,"a":0.015},{"s":"Initial Oil 3","w":1515,"a":0.019},{"s":"Initial Oil 3","w":1500,"a":0.024},{"s":"Initial Oil 3","w":1493,"a":0.03},{"s":"Initial Oil 3","w":1480,"a":0.05},{"s":"Initial Oil 3","w":1474,"a":0.077},{"s":"Initial Oil 3","w":1467,"a":0.13},{"s":"Initial Oil 3","w":1460,"a":0.175},{"s":"Initial Oil 3","w":1455,"a":0.18},{"s":"Initial Oil 3","w":1449,"a":0.165},{"s":"Initial Oil 3","w":1442,"a":0.139},{"s":"Initial Oil 3","w":1435,"a":0.11},{"s":"Initial Oil 3","w":1429,"a":0.08},{"s":"Initial Oil 3","w":1423,"a":0.065},{"s":"Initial Oil 3","w":1416,"a":0.055},{"s":"Initial Oil 3","w":1404,"a":0.047},{"s":"Initial Oil 3","w":1391,"a":0.05},{"s":"Initial Oil 3","w":1386,"a":0.065},{"s":"Initial Oil 3","w":1381,"a":0.1},{"s":"Initial Oil 3","w":1378,"a":0.122},{"s":"Initial Oil 3","w":1373,"a":0.11},{"s":"Initial Oil 3","w":1367,"a":0.075},{"s":"Initial Oil 3","w":1361,"a":0.06},{"s":"Initial Oil 3","w":1352,"a":0.055},{"s":"Initial Oil 3","w":1340,"a":0.055},{"s":"Initial Oil 3","w":1327,"a":0.055},{"s":"Initial Oil 3","w":1314,"a":0.056},{"s":"Initial Oil 3","w":1308,"a":0.057},{"s":"Initial Oil 3","w":1298,"a":0.051},{"s":"Initial Oil 3","w":1289,"a":0.047},{"s":"Initial Oil 3","w":1280,"a":0.045},{"s":"Initial Oil 3","w":1269,"a":0.043},{"s":"Initial Oil 3","w":1250,"a":0.043},{"s":"Initial Oil 3","w":1225,"a":0.043},{"s":"Initial Oil 3","w":1205,"a":0.042},{"s":"Initial Oil 3","w":1186,"a":0.041},{"s":"Initial Oil 3","w":1170,"a":0.041},{"s":"Initial Oil 3","w":1161,"a":0.040},{"s":"Initial Oil 3","w":1148,"a":0.038},{"s":"Initial Oil 3","w":1135,"a":0.036},{"s":"Initial Oil 3","w":1115,"a":0.032},{"s":"Initial Oil 3","w":1097,"a":0.029},{"s":"Initial Oil 3","w":1080,"a":0.028},{"s":"Initial Oil 3","w":1059,"a":0.028},{"s":"Initial Oil 3","w":1045,"a":0.028},{"s":"Initial Oil 3","w":1033,"a":0.033},{"s":"Initial Oil 3","w":1022,"a":0.028},{"s":"Initial Oil 3","w":1008,"a":0.024},{"s":"Initial Oil 3","w":995,"a":0.022},{"s":"Initial Oil 3","w":982,"a":0.021},{"s":"Initial Oil 3","w":970,"a":0.023},{"s":"Initial Oil 3","w":957,"a":0.022},{"s":"Initial Oil 3","w":944,"a":0.020},{"s":"Initial Oil 3","w":931,"a":0.020},{"s":"Initial Oil 3","w":925,"a":0.018},{"s":"Initial Oil 3","w":910,"a":0.022},{"s":"Initial Oil 3","w":893,"a":0.033},{"s":"Initial Oil 3","w":880,"a":0.040},{"s":"Initial Oil 3","w":867,"a":0.047},{"s":"Initial Oil 3","w":857,"a":0.044},{"s":"Initial Oil 3","w":848,"a":0.040},{"s":"Initial Oil 3","w":835,"a":0.052},{"s":"Initial Oil 3","w":820,"a":0.062},{"s":"Initial Oil 3","w":813,"a":0.065},{"s":"Initial Oil 3","w":805,"a":0.056},{"s":"Initial Oil 3","w":795,"a":0.050},{"s":"Initial Oil 3","w":790,"a":0.048},{"s":"Initial Oil 3","w":780,"a":0.052},{"s":"Initial Oil 3","w":765,"a":0.060},{"s":"Initial Oil 3","w":755,"a":0.072},{"s":"Initial Oil 3","w":748,"a":0.078},{"s":"Initial Oil 3","w":740,"a":0.068},{"s":"Initial Oil 3","w":733,"a":0.060},{"s":"Initial Oil 3","w":726,"a":0.058},{"s":"Initial Oil 3","w":720,"a":0.036},{"s":"Initial Oil 3","w":714,"a":0.025},{"s":"Initial Oil 3","w":701,"a":0.019},{"s":"Initial Oil 3","w":688,"a":0.015},{"s":"Initial Oil 3","w":670,"a":0.012},{"s":"Initial Oil 3","w":650,"a":0.012}
    ],
    "frameA": [{"w":2377,"w2":488.5,"a":0.2457,"a2":-0.1003},{"w":2377,"w2":488.5,"a":-0.1423,"a2":-0.205},{"w":2275.7,"w2":590.2,"a":-0.1473,"a2":-0.1893}],
    "frameB": [{"w":2370,"w2":494,"a":0.2428,"a2":-0.1002},{"w":2370,"w2":494,"a":-0.1413,"a2":-0.2033},{"w":2272,"w2":591,"a":-0.1463,"a2":-0.1878}],
    "frameC": [{"w":2366.5,"w2":497,"a":0.2452,"a2":-0.1049},{"w":2366.5,"w2":497,"a":-0.1473,"a2":-0.211},{"w":2272,"w2":595,"a":-0.1511,"a2":-0.1945}],
    "vgrid": [{"w":1650,"a":-0.05,"a2":0.2},{"w":1150,"a":-0.05,"a2":0.2},{"w":650,"a":-0.05,"a2":0.2}],
    "zeroAll": [{"w":1979,"w2":650,"a":0}],
    "leadA": [{"w":1689,"a":0.059,"w2":1585,"a2":0.0277},{"w":1611,"a":0.059,"w2":1585,"a2":0.0277},{"w":1298,"a":0.1434,"w2":1298,"a2":0.069},{"w":1233,"a":0.1434,"w2":1298,"a2":0.069},{"w":1017.6,"a":0.0884,"w2":1031,"a2":0.049},{"w":946,"a":0.0884,"w2":1031,"a2":0.049}],
    "boxA": [{"w":1884.6,"w2":1564,"a":0.1007,"a2":0.059},{"w":1354,"w2":1037,"a":0.1847,"a2":0.1434},{"w":1203,"w2":881,"a":0.1317,"a2":0.0884}],
    "tagA": [{"w":1724,"a":0.0799,"t":"1590"},{"w":1195.6,"a":0.164,"t":"1300"},{"w":1042,"a":0.110,"t":"1033"}],
    "oilBoxA": [{"w":946,"w2":500,"a":0.2247,"a2":0.16}],
    "oilTxtA": [{"w":723,"a":0.1924,"t":"Oil 1"}],
    "leadB": [{"w":1685,"a":0.0566,"w2":1592,"a2":0.0275},{"w":1620,"a":0.0566,"w2":1592,"a2":0.0275},{"w":1350,"a":0.1422,"w2":1311,"a2":0.068},{"w":1266,"a":0.1422,"w2":1311,"a2":0.068},{"w":1124,"a":0.0855,"w2":1030,"a2":0.0482},{"w":1047,"a":0.0855,"w2":1030,"a2":0.0482}],
    "boxB": [{"w":1897,"w2":1579,"a":0.0977,"a2":0.0566},{"w":1401,"w2":1082,"a":0.1852,"a2":0.1422},{"w":1180,"w2":866,"a":0.1268,"a2":0.0855}],
    "tagB": [{"w":1739,"a":0.0771,"t":"1590"},{"w":1241,"a":0.1637,"t":"1300"},{"w":1023,"a":0.1063,"t":"1033"}],
    "oilBoxB": [{"w":941,"w2":497,"a":0.224,"a2":0.1587}],
    "oilTxtB": [{"w":719,"a":0.1914,"t":"Oil 2"}],
    "leadC": [{"w":1784,"a":0.0531,"w2":1714,"a2":0.012},{"w":1704,"a":0.0531,"w2":1714,"a2":0.012},{"w":1665,"a":0.1394,"w2":1582,"a2":0.0246},{"w":1595,"a":0.1394,"w2":1582,"a2":0.0246},{"w":1282,"a":0.1383,"w2":1304,"a2":0.0572},{"w":1209.4,"a":0.1383,"w2":1304,"a2":0.0572},{"w":1045.8,"a":0.076,"w2":1033,"a2":0.0332},{"w":969,"a":0.076,"w2":1033,"a2":0.0332}],
    "boxC": [{"w":1965,"w2":1652.7,"a":0.0942,"a2":0.0531},{"w":1857,"w2":1537.7,"a":0.1815,"a2":0.1394},{"w":1329,"w2":1016.7,"a":0.1805,"a2":0.1383},{"w":1090.6,"w2":777.6,"a":0.1181,"a2":0.076}],
    "tagC": [{"w":1809,"a":0.0736,"t":"1715"},{"w":1697,"a":0.1604,"t":"1590"},{"w":1173,"a":0.1594,"t":"1300"},{"w":934,"a":0.097,"t":"1033"}],
    "oilBoxC": [{"w":943.9,"w2":503.3,"a":0.2247,"a2":0.1589}],
    "oilTxtC": [{"w":723.6,"a":0.1918,"t":"Oil 3"}]
  },
  "vconcat": [
    {
      "width": 812, "height": 458,
      "encoding": {
        "x": {"field": "w", "type": "quantitative",
          "scale": {"domain": [650, 1979], "range": [607.7, 267.9], "nice": false, "zero": false},
          "axis": {"title": "Wavenumber, cm⁻¹", "values": [650, 1150, 1650], "format": "d", "grid": false, "domain": false, "offset": -159.3, "labelPadding": 21, "titlePadding": 13, "titleFontSize": 21, "titleX": 407.5}},
        "y": {"field": "a", "type": "quantitative",
          "scale": {"domain": [-0.05, 0.2], "range": [298.7, 48.7], "nice": false, "zero": false},
          "axis": {"title": "Absorbance, %", "values": [-0.05, 0, 0.05, 0.1, 0.15, 0.2], "labelExpr": "replace(format(datum.value, '.2f'), '−', '-')", "grid": true, "domain": true, "domainColor": "#e4e2d4", "domainWidth": 1.5, "offset": -267.9, "labelPadding": 26, "titlePadding": 22, "titleFontSize": 22}}
      },
      "layer": [
        {"data": {"name": "frameA"}, "mark": {"type": "rect", "fill": null, "stroke": "#e4e4e4", "strokeWidth": 1.5}, "encoding": {"x2": {"field": "w2"}, "y2": {"field": "a2"}}},
        {"data": {"name": "vgrid"}, "mark": {"type": "rule", "stroke": "#d9d9d9", "strokeWidth": 1}, "encoding": {"y2": {"field": "a2"}}},
        {"data": {"name": "zeroAll"}, "mark": {"type": "rule", "stroke": "#b8b8b8", "strokeWidth": 1.5}, "encoding": {"x2": {"field": "w2"}}},
        {"data": {"name": "lineA"}, "mark": {"type": "line", "strokeWidth": 3.2},
          "encoding": {"color": {"field": "s", "type": "nominal",
            "scale": {"domain": ["E1", "E1c", "Initial Oil 1"], "range": ["#F79646", "#558ED5", "#2D4E7A"]},
            "legend": {"legendX": 215, "legendY": 392}}}},
        {"data": {"name": "leadA"}, "mark": {"type": "rule", "stroke": "#c4c4c4", "strokeWidth": 1.5}, "encoding": {"x2": {"field": "w2"}, "y2": {"field": "a2"}}},
        {"data": {"name": "boxA"}, "mark": {"type": "rect", "fill": "#ffffff", "stroke": "#c4c4c4", "strokeWidth": 2}, "encoding": {"x2": {"field": "w2"}, "y2": {"field": "a2"}}},
        {"data": {"name": "tagA"}, "mark": {"type": "text", "fontSize": 28, "color": "#1a1a1a", "baseline": "middle"}, "encoding": {"text": {"field": "t"}}},
        {"data": {"name": "oilBoxA"}, "mark": {"type": "rect", "fill": "#ffffff", "stroke": "#d9d9d9", "strokeWidth": 2}, "encoding": {"x2": {"field": "w2"}, "y2": {"field": "a2"}}},
        {"data": {"name": "oilTxtA"}, "mark": {"type": "text", "fontSize": 36, "fontWeight": "bold", "color": "#000000", "baseline": "middle"}, "encoding": {"text": {"field": "t"}}}
      ]
    },
    {
      "width": 812, "height": 40,
      "data": {"values": [{"t": "A—FTIR for Oil 1 Aromatics Fraction (Fingerprint region)"}]},
      "mark": {"type": "text", "font": "Liberation Serif", "fontSize": 33, "color": "#000000"},
      "encoding": {"text": {"field": "t"}}
    },
    {
      "width": 812, "height": 462,
      "encoding": {
        "x": {"field": "w", "type": "quantitative",
          "scale": {"domain": [650, 1979], "range": [609.7, 265.9], "nice": false, "zero": false},
          "axis": {"title": "Wavenumber, cm⁻¹", "values": [650, 1150, 1650], "format": "d", "grid": false, "domain": false, "offset": -161, "labelPadding": 21, "titlePadding": 13, "titleFontSize": 21, "titleX": 407.4}},
        "y": {"field": "a", "type": "quantitative",
          "scale": {"domain": [-0.05, 0.2], "range": [301, 48.3], "nice": false, "zero": false},
          "axis": {"title": "Absorbance, %", "values": [-0.05, 0, 0.05, 0.1, 0.15, 0.2], "labelExpr": "replace(format(datum.value, '.2f'), '−', '-')", "grid": true, "domain": true, "domainColor": "#e4e2d4", "domainWidth": 1.5, "offset": -265.9, "labelPadding": 26, "titlePadding": 22, "titleFontSize": 22}}
      },
      "layer": [
        {"data": {"name": "frameB"}, "mark": {"type": "rect", "fill": null, "stroke": "#e4e4e4", "strokeWidth": 1.5}, "encoding": {"x2": {"field": "w2"}, "y2": {"field": "a2"}}},
        {"data": {"name": "vgrid"}, "mark": {"type": "rule", "stroke": "#d9d9d9", "strokeWidth": 1}, "encoding": {"y2": {"field": "a2"}}},
        {"data": {"name": "zeroAll"}, "mark": {"type": "rule", "stroke": "#b8b8b8", "strokeWidth": 1.5}, "encoding": {"x2": {"field": "w2"}}},
        {"data": {"name": "lineB"}, "mark": {"type": "line", "strokeWidth": 3.2},
          "encoding": {"color": {"field": "s", "type": "nominal",
            "scale": {"domain": ["E2", "E2c", "Initial Oil 2"], "range": ["#C0504D", "#8064A2", "#772C2A"]},
            "legend": {"legendX": 215, "legendY": 398}}}},
        {"data": {"name": "leadB"}, "mark": {"type": "rule", "stroke": "#c4c4c4", "strokeWidth": 1.5}, "encoding": {"x2": {"field": "w2"}, "y2": {"field": "a2"}}},
        {"data": {"name": "boxB"}, "mark": {"type": "rect", "fill": "#ffffff", "stroke": "#c4c4c4", "strokeWidth": 2}, "encoding": {"x2": {"field": "w2"}, "y2": {"field": "a2"}}},
        {"data": {"name": "tagB"}, "mark": {"type": "text", "fontSize": 28, "color": "#1a1a1a", "baseline": "middle"}, "encoding": {"text": {"field": "t"}}},
        {"data": {"name": "oilBoxB"}, "mark": {"type": "rect", "fill": "#ffffff", "stroke": "#d9d9d9", "strokeWidth": 2}, "encoding": {"x2": {"field": "w2"}, "y2": {"field": "a2"}}},
        {"data": {"name": "oilTxtB"}, "mark": {"type": "text", "fontSize": 36, "fontWeight": "bold", "color": "#000000", "baseline": "middle"}, "encoding": {"text": {"field": "t"}}}
      ]
    },
    {
      "width": 812, "height": 40,
      "data": {"values": [{"t": "B—FTIR for Oil 2 Aromatics Fraction (Fingerprint region)"}]},
      "mark": {"type": "text", "font": "Liberation Serif", "fontSize": 33, "color": "#000000"},
      "encoding": {"text": {"field": "t"}}
    },
    {
      "width": 812, "height": 451,
      "encoding": {
        "x": {"field": "w", "type": "quantitative",
          "scale": {"domain": [650, 1979], "range": [612, 265.1], "nice": false, "zero": false},
          "axis": {"title": "Wavenumber, cm⁻¹", "values": [650, 1150, 1650], "format": "d", "grid": false, "domain": false, "offset": -158.7, "labelPadding": 21, "titlePadding": 13, "titleFontSize": 21, "titleX": 408}},
        "y": {"field": "a", "type": "quantitative",
          "scale": {"domain": [-0.05, 0.2], "range": [292.3, 49], "nice": false, "zero": false},
          "axis": {"title": "Absorbance, %", "values": [-0.05, 0, 0.05, 0.1, 0.15, 0.2], "labelExpr": "replace(format(datum.value, '.2f'), '−', '-')", "grid": true, "domain": true, "domainColor": "#e4e2d4", "domainWidth": 1.5, "offset": -265.1, "labelPadding": 26, "titlePadding": 22, "titleFontSize": 22}}
      },
      "layer": [
        {"data": {"name": "frameC"}, "mark": {"type": "rect", "fill": null, "stroke": "#e4e4e4", "strokeWidth": 1.5}, "encoding": {"x2": {"field": "w2"}, "y2": {"field": "a2"}}},
        {"data": {"name": "vgrid"}, "mark": {"type": "rule", "stroke": "#d9d9d9", "strokeWidth": 1}, "encoding": {"y2": {"field": "a2"}}},
        {"data": {"name": "zeroAll"}, "mark": {"type": "rule", "stroke": "#b8b8b8", "strokeWidth": 1.5}, "encoding": {"x2": {"field": "w2"}}},
        {"data": {"name": "lineC"}, "mark": {"type": "line", "strokeWidth": 3.2},
          "encoding": {"color": {"field": "s", "type": "nominal",
            "scale": {"domain": ["E3", "E3c", "Initial Oil 3"], "range": ["#9BBB59", "#4BACC6", "#5E7A30"]},
            "legend": {"legendX": 212, "legendY": 387}}}},
        {"data": {"name": "leadC"}, "mark": {"type": "rule", "stroke": "#c4c4c4", "strokeWidth": 1.5}, "encoding": {"x2": {"field": "w2"}, "y2": {"field": "a2"}}},
        {"data": {"name": "boxC"}, "mark": {"type": "rect", "fill": "#ffffff", "stroke": "#c4c4c4", "strokeWidth": 2}, "encoding": {"x2": {"field": "w2"}, "y2": {"field": "a2"}}},
        {"data": {"name": "tagC"}, "mark": {"type": "text", "fontSize": 28, "color": "#1a1a1a", "baseline": "middle"}, "encoding": {"text": {"field": "t"}}},
        {"data": {"name": "oilBoxC"}, "mark": {"type": "rect", "fill": "#ffffff", "stroke": "#d9d9d9", "strokeWidth": 2}, "encoding": {"x2": {"field": "w2"}, "y2": {"field": "a2"}}},
        {"data": {"name": "oilTxtC"}, "mark": {"type": "text", "fontSize": 36, "fontWeight": "bold", "color": "#000000", "baseline": "middle"}, "encoding": {"text": {"field": "t"}}}
      ]
    },
    {
      "width": 812, "height": 40,
      "data": {"values": [{"t": "C—FTIR for Oil 3 Aromatics Fraction (Fingerprint region)"}]},
      "mark": {"type": "text", "font": "Liberation Serif", "fontSize": 33, "color": "#000000"},
      "encoding": {"text": {"field": "t"}}
    }
  ]
}
